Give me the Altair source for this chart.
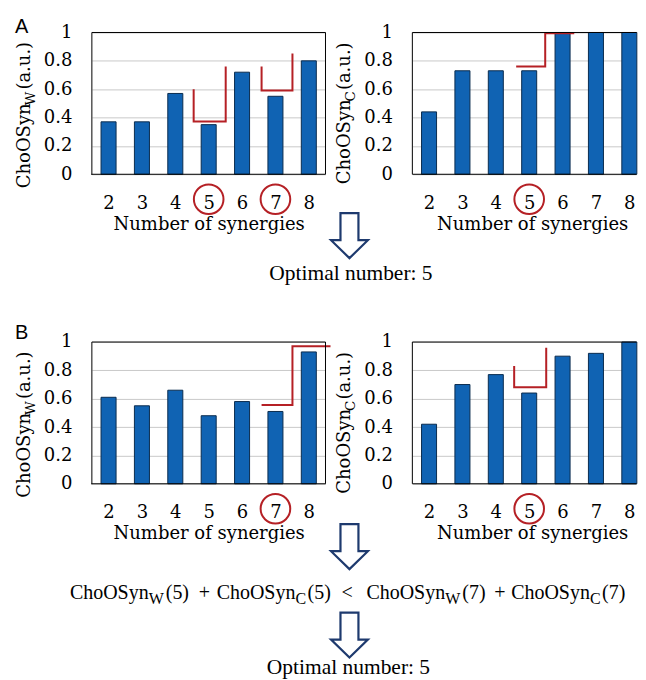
import altair as alt
import pandas as pd

# ---------------- data ----------------
n_syn = [2, 3, 4, 5, 6, 7, 8]
a_w = [0.37, 0.37, 0.57, 0.35, 0.72, 0.55, 0.80]   # A, ChoOSyn_W
a_c = [0.44, 0.73, 0.73, 0.73, 1.00, 1.00, 1.00]   # A, ChoOSyn_C
b_w = [0.61, 0.55, 0.66, 0.48, 0.58, 0.51, 0.93]   # B, ChoOSyn_W
b_c = [0.42, 0.70, 0.77, 0.64, 0.90, 0.92, 1.00]   # B, ChoOSyn_C
y_ticks = [0, 0.2, 0.4, 0.6, 0.8, 1]
x_ticks = [2, 3, 4, 5, 6, 7, 8]

# red bracket outlines (x in number of synergies, y in a.u.)
a_w_br5_x = [4.55, 4.55, 5.51, 5.51]
a_w_br5_y = [0.60, 0.373, 0.373, 0.76]
a_w_br7_x = [6.585, 6.585, 7.51, 7.51]
a_w_br7_y = [0.76, 0.59, 0.59, 0.852]
a_c_br_x = [4.61, 5.48, 5.48, 6.35]
a_c_br_y = [0.76, 0.76, 0.995, 0.995]
b_w_br_x = [6.585, 7.51, 7.51, 8.65]
b_w_br_y = [0.556, 0.556, 0.97, 0.97]
b_c_br_x = [4.55, 4.55, 5.51, 5.51]
b_c_br_y = [0.83, 0.68, 0.68, 0.96]

# circled tick labels
a_w_circled = [5, 7]
a_c_circled = [5]
b_w_circled = [7]
b_c_circled = [5]

# ---------------- styles ----------------
BLUE = "#1063B3"
EDGE = "#0B2C4E"
RED = "#B52025"
NAVY = "#1E3A6E"
GRID = "#C9C9C9"
SERIF = "DejaVu Serif"
TIMES = "Liberation Serif"
SANS = "Liberation Sans"
ARROW = "M-0.4,-1 L0.4,-1 L0.4,0.2 L0.82,0.2 L0,1 L-0.82,0.2 L-0.4,0.2 Z"
CIRCLE_Y = -0.176


def txt(text, x, y, size, font, angle=0, align="left"):
    return alt.Chart(alt.Data(values=[{}])).mark_text(
        text=text, font=font, fontSize=size, align=align,
        baseline="alphabetic", angle=angle, color="black"
    ).encode(x=alt.value(x), y=alt.value(y))


def arrow(cx, cy):
    return alt.Chart(alt.Data(values=[{}])).mark_point(
        shape=ARROW, size=2025, filled=False, stroke=NAVY,
        strokeWidth=2.2, opacity=1, strokeJoin="miter"
    ).encode(x=alt.value(cx), y=alt.value(cy))


def ytitle(sub, start):
    # rotated "ChoOSyn_sub (a.u.)"
    w_main = 82.9
    w_sub = 13.9 if sub == "W" else 9.4
    return [
        txt("ChoOSyn", -62, start, 18, SERIF, angle=270),
        txt(sub, -57, start - w_main, 13.5, SERIF, angle=270),
        txt("(a.u.)", -62, start - w_main - w_sub - 2, 18, SERIF, angle=270),
    ]


def panel(values, br_list, circled, width, xmax, full_frame, sub, tstart, extras, title_x):
    xs = alt.Scale(domain=[1.5, xmax], nice=False, zero=False)
    ys = alt.Scale(domain=[0, 1], nice=False, zero=False)
    x_axis = alt.Axis(values=x_ticks, format="d", title="Number of synergies",
                      labelPadding=20, titlePadding=3, grid=False, labelFlush=False,
                      labelOverlap=False, titleX=title_x)
    y_axis = alt.Axis(values=y_ticks, format="~g", title=None, labelPadding=20,
                      grid=True, labelOverlap=False, labelFlush=False)

    def X(f):
        return alt.X(f, scale=xs, axis=x_axis, title="Number of synergies")

    def Y(f):
        return alt.Y(f, scale=ys, axis=y_axis, title=None)

    bars_df = pd.DataFrame({"n": n_syn, "v": values})
    bars = alt.Chart(bars_df).transform_calculate(
        x0="datum.n - 0.225", x1="datum.n + 0.225", b="0"
    ).mark_rect(fill=BLUE, stroke=EDGE, strokeWidth=1).encode(
        x=X("x0:Q"), x2="x1:Q", y=Y("v:Q"), y2="b:Q",
    )
    rows = []
    for g, (bx, by) in enumerate(br_list):
        for i, (px, py) in enumerate(zip(bx, by)):
            rows.append({"x": px, "y": py, "i": i, "g": g})
    brackets = alt.Chart(pd.DataFrame(rows)).mark_line(
        color=RED, strokeWidth=2, strokeJoin="miter"
    ).encode(x=X("x:Q"), y=Y("y:Q"), order="i:Q", detail="g:N")
    if full_frame:
        fx = [1.5, xmax, xmax, 1.5, 1.5]
        fy = [0, 0, 1, 1, 0]
    else:
        fx = [xmax, 1.5, 1.5, xmax]
        fy = [1, 1, 0, 0]
    frame = alt.Chart(pd.DataFrame({"x": fx, "y": fy, "i": list(range(len(fx)))})).mark_line(
        color="black", strokeWidth=1, strokeCap="square"
    ).encode(x=X("x:Q"), y=Y("y:Q"), order="i:Q")
    circ = alt.Chart(pd.DataFrame({"x": circled, "y": [CIRCLE_Y] * len(circled)})).mark_point(
        shape="circle", size=880, filled=False, stroke=RED, strokeWidth=2, opacity=1
    ).encode(x=X("x:Q"), y=Y("y:Q"))
    layers = [bars, brackets, frame, circ] + ytitle(sub, tstart) + extras
    return alt.layer(*layers).properties(width=width, height=142)


# annotations for row A (relative to left panel of row A)
extras_a = [
    txt("A", -77, 1, 20, SANS),
    arrow(258, 203.5),
    txt("Optimal number: 5", 259.5, 248, 21.5, TIMES, align="center"),
]

# annotations for row B (relative to left panel of row B)
FB = 257   # formula baseline
FS = 262   # subscript baseline
formula = [
    ("ChoOSyn", -22, FB, 20), ("W", 57, FS, 16), ("(5)", 74, FB, 20), ("+", 107, FB, 20),
    ("ChoOSyn", 125, FB, 20), ("C", 204, FS, 16), ("(5)", 216, FB, 20), ("<", 250, FB, 20),
    ("ChoOSyn", 275, FB, 20), ("W", 354, FS, 16), ("(7)", 371, FB, 20), ("+", 403, FB, 20),
    ("ChoOSyn", 420, FB, 20), ("C", 499, FS, 16), ("(7)", 511, FB, 20),
]
extras_b = [
    txt("B", -77, -3, 20, SANS),
    arrow(258, 205),
    arrow(258, 293.5),
    txt("Optimal number: 5", 257, 333, 21.5, TIMES, align="center"),
] + [txt(t, x, y, s, TIMES) for (t, x, y, s) in formula]

AL = panel(a_w, [(a_w_br5_x, a_w_br5_y), (a_w_br7_x, a_w_br7_y)], a_w_circled,
           234, 8.5, True, "W", 156, extras_a, 117)
AR = panel(a_c, [(a_c_br_x, a_c_br_y)], a_c_circled, 224, 8.2, False, "C", 152, [], 120)
BL = panel(b_w, [(b_w_br_x, b_w_br_y)], b_w_circled, 234, 8.5, True, "W", 156, extras_b, 117)
BR = panel(b_c, [(b_c_br_x, b_c_br_y)], b_c_circled, 224, 8.2, False, "C", 152, [], 120)

chart = alt.concat(
    AL, AR, BL, BR, columns=2, spacing={"row": 168, "column": 87}, bounds="flush"
).properties(
    padding={"left": 7, "top": 9, "right": 0, "bottom": 0}
).configure_view(strokeWidth=0).configure_axis(
    labelFont=SERIF, labelFontSize=18, labelColor="black",
    titleFont=SERIF, titleFontSize=18, titleFontWeight="normal", titleColor="black",
    ticks=False, tickSize=0, domain=False, gridColor=GRID, gridWidth=1,
)

chart.save("out.html", embed_options={"renderer": "svg", "actions": False})
